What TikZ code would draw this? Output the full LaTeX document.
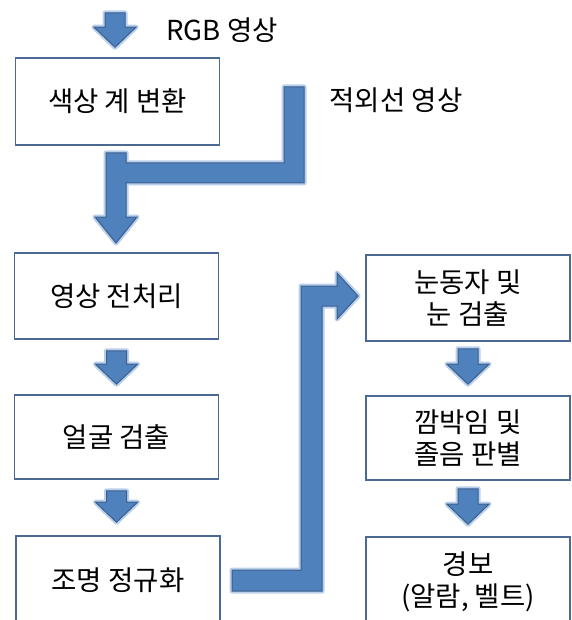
\documentclass[tikz,border=0pt]{standalone}
\usepackage{fontspec}
\setmainfont{Noto Sans CJK KR}
\usetikzlibrary{calc}
\definecolor{arrowfill}{HTML}{4F81BD}
\definecolor{arrowedge}{HTML}{3A5F8E}
\definecolor{glow}{HTML}{A9C4E6}
\definecolor{boxedge}{HTML}{4A6A94}
\tikzset{
  procbox/.style={draw=boxedge, line width=1.6pt, minimum width=204pt, inner sep=0pt, align=center, font=\fontsize{27.5}{32}\selectfont},
  blockarrow/.style={fill=arrowfill, draw=arrowedge, line width=1pt, line join=miter,
     preaction={draw=glow, line width=5pt, line join=round, opacity=0.8}},
  plain/.style={inner sep=0pt, font=\fontsize{27.5}{32}\selectfont}
}
\newcommand\dnarrow[2]{%
  \path let \p1=#1, \p2=#2 in
  [blockarrow] (\x1-10pt,\y1) -- (\x1+10pt,\y1) -- (\x1+10pt,\y2+20pt) -- (\x1+21pt,\y2+20pt)
   -- (\x1,\y2) -- (\x1-21pt,\y2+20pt) -- (\x1-10pt,\y2+20pt) -- cycle;}
\begin{document}
\begin{tikzpicture}[x=1pt,y=-1pt]
\useasboundingbox (0,0) rectangle (571,620);
\clip (0,0) rectangle (571,620);
\fill[white] (0,0) rectangle (571,620);
% boxes
\node[procbox, minimum height=87pt] (b1) at (117.5,101.5) {색상 계 변환};
\node[procbox, minimum height=86pt] (b2) at (116.5,296) {영상 전처리};
\node[procbox, minimum height=84pt] (b3) at (116.5,437) {얼굴 검출};
\node[procbox, minimum height=88pt] (b4) at (118,580) {조명 정규화};
\node[procbox, minimum height=86pt] (r1) at (468,298) {눈동자 및\\눈 검출};
\node[procbox, minimum height=84pt] (r2) at (468,438) {깜박임 및\\졸음 판별};
\node[procbox, minimum height=89pt] (r3) at (468,581.5) {경보\\(알람, 벨트)};
% labels
\node[plain] (rgb) at (222,30) {RGB 영상};
\node[plain] (ir) at (396,100) {적외선 영상};
% straight block arrows
\coordinate (rgbin) at (115,13);
\dnarrow{(rgbin)}{($(b1.north)+(-2.5,-10)$)}
\dnarrow{($(b2.south)+(0,11)$)}{($(b3.north)+(0,-10)$)}
\dnarrow{($(b3.south)+(0,11)$)}{($(b4.north)+(-1.5,-13)$)}
\dnarrow{($(r1.south)+(0,7)$)}{($(r2.north)+(0,-11)$)}
\dnarrow{($(r2.south)+(0,8)$)}{($(r3.north)+(0,-12)$)}
% merging arrow (colour conversion + infrared into preprocessing)
\path[blockarrow] (106,153) -- (126,153) -- (126,163) -- (284,163) -- (284,87) -- (304,87)
  -- (304,183) -- (126,183) -- (126,217) -- (137,217) -- (116,243) -- (95,217) -- (106,217) -- cycle;
% bent arrow from illumination normalisation to pupil detection
\path[blockarrow] (232,570) -- (301,570) -- (301,286) -- (337,286) -- (337,273) -- (358,296)
  -- (337,319) -- (337,306) -- (322,306) -- (322,591) -- (232,591) -- cycle;
\end{tikzpicture}
\end{document}
